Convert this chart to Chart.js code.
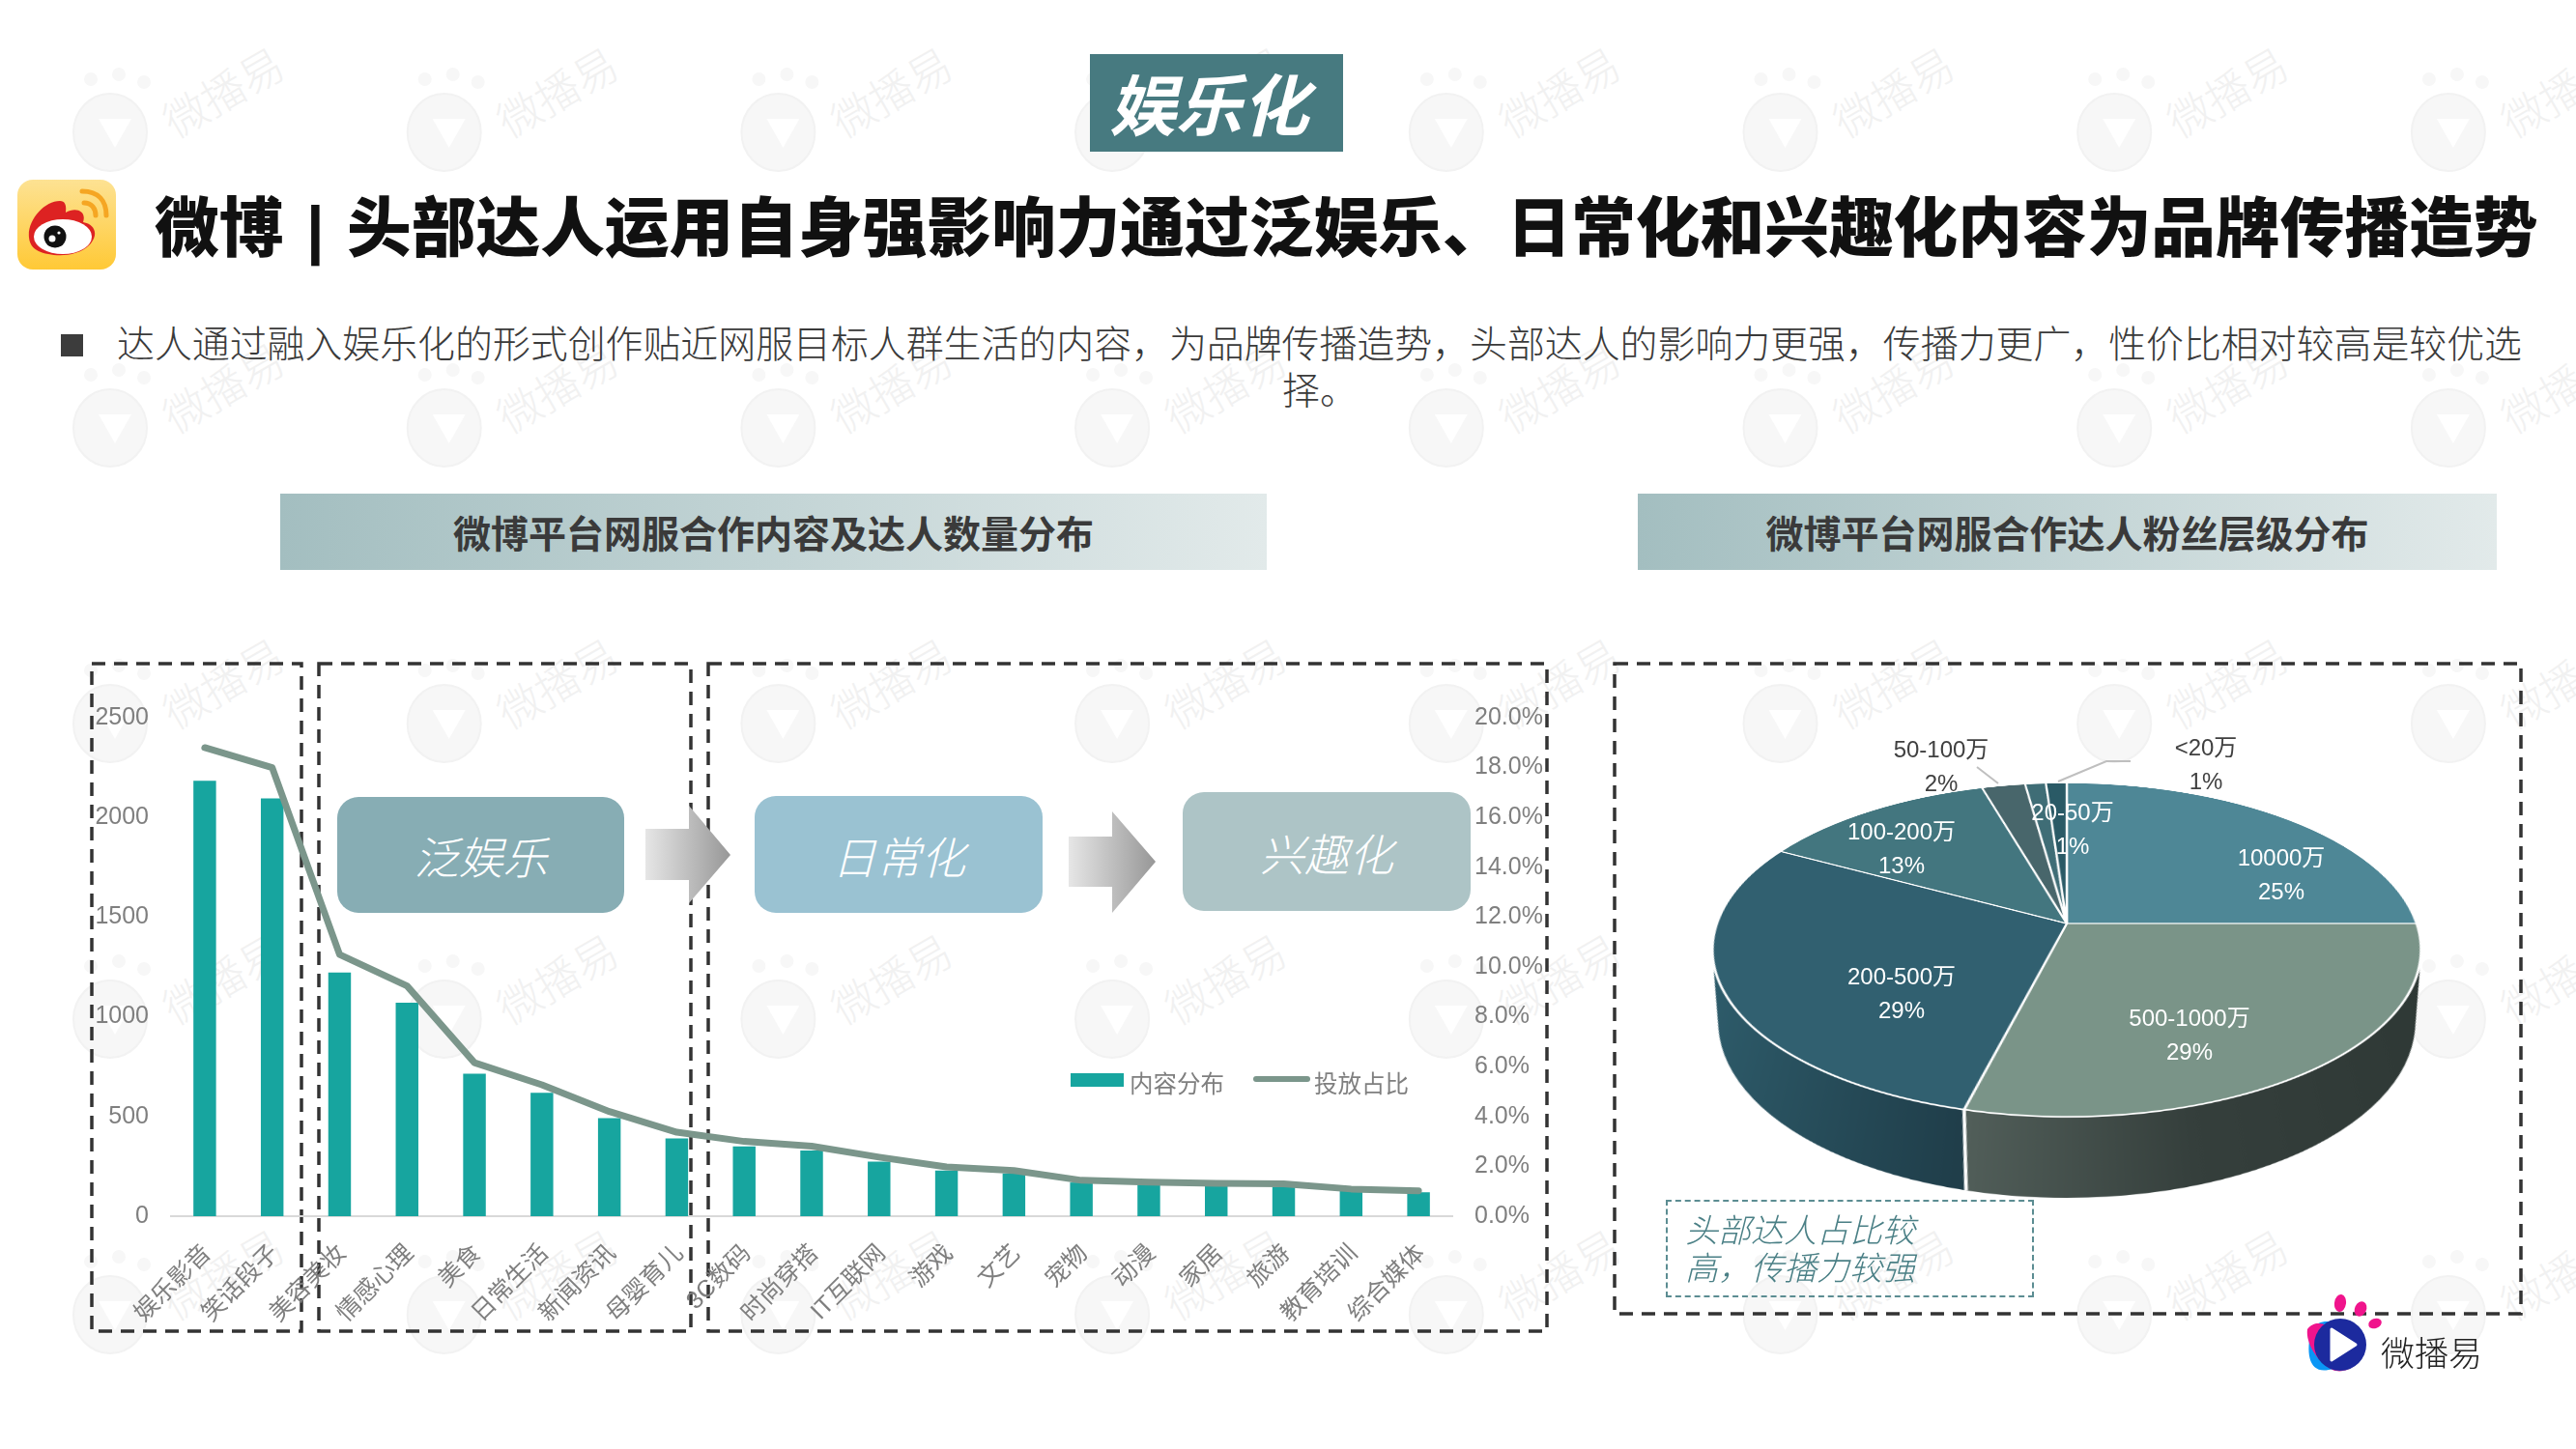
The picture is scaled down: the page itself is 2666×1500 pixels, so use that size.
<!DOCTYPE html>
<html lang="zh">
<head>
<meta charset="utf-8">
<script src="https://cdn.jsdelivr.net/npm/chart.js@4/dist/chart.umd.min.js"></script>
<style>
  html, body { margin: 0; padding: 0; background: #fff; }
  body { width: 2666px; height: 1500px; position: relative; overflow: hidden;
         font-family: "Liberation Sans", "Noto Sans CJK SC", sans-serif; }
  .abs { position: absolute; white-space: nowrap; }
  .ctr { transform: translate(-50%, -50%); text-align: center; }
  .banner { display: flex; align-items: center; justify-content: center; top: 511px; height: 79px;
            background: linear-gradient(90deg, #a3bec0, #e2eaea); color: #3a3a3a;
            font-size: 39px; font-weight: 700; padding-bottom: 0; }
  .banner span { position: relative; top: -1px; }
  .flow { display: flex; align-items: center; justify-content: center; border-radius: 22px;
          color: #fff; font-size: 46px; font-style: italic; font-weight: 300; }
  .pieLabel { font-size: 24px; line-height: 35px; color: #fff; }
  .legendText { font-size: 24.5px; color: #7f7f7f; }
  #mixChart { position: absolute; left: 60px; top: 700px; }
  #pieChart { position: absolute; left: 1759px; top: 575.5px;
              transform-origin: 380px 380px; transform: perspective(2031px) rotateX(62.26deg); }
</style>
</head>
<body>

<svg id="watermark" class="abs" style="left:0;top:0" width="2666" height="1500"></svg>

<!-- 顶部标题 -->
<div class="abs" style="left:1128px;top:56px;width:262px;height:101px;background:#477a80"></div>
<div class="abs ctr" style="left:1251px;top:111px;color:#fff;font-size:69px;line-height:99px;font-weight:700;font-style:italic">娱乐化</div>

<svg class="abs" style="left:18px;top:186px" width="102" height="93" viewBox="0 0 102 93">
  <defs><linearGradient id="wbBg" x1="0" y1="0" x2="0" y2="1"><stop offset="0" stop-color="#fde293"/><stop offset="1" stop-color="#ffc936"/></linearGradient></defs>
  <rect width="102" height="93" rx="16" fill="url(#wbBg)"/>
  <path d="M12 60 C10 42 28 22 44 22 C52 22 50 32 50 34 C60 28 72 32 68 44 C80 46 84 56 76 66 C66 78 46 80 32 77 C20 75 13 70 12 60 Z" fill="#dd2222"/>
  <ellipse cx="47" cy="59" rx="30" ry="18" fill="#fff"/>
  <circle cx="39" cy="59" r="11.5" fill="#111"/>
  <circle cx="36" cy="61" r="3.5" fill="#fff"/><circle cx="43" cy="55" r="1.6" fill="#fff"/>
  <path d="M67 12 C84 12 92 22 92 37" fill="none" stroke="#f5a623" stroke-width="5" stroke-linecap="round"/>
  <path d="M69 24 C77 24 81 30 81 37" fill="none" stroke="#f5a623" stroke-width="5" stroke-linecap="round"/>
</svg>

<div class="abs" style="left:160px;top:195px;height:84px;line-height:84px;font-size:66.7px;word-spacing:5px;font-weight:900;color:#111;white-space:pre">微博 | 头部达人运用自身强影响力通过泛娱乐、日常化和兴趣化内容为品牌传播造势</div>

<div class="abs" style="left:63px;top:346px;width:23px;height:23px;background:#3c3c3c"></div>
<div class="abs" style="left:121px;top:333px;height:48px;line-height:48px;font-size:38.9px;color:#3a3a3a;font-weight:300">达人通过融入娱乐化的形式创作贴近网服目标人群生活的内容，为品牌传播造势，头部达人的影响力更强，传播力更广，性价比相对较高是较优选</div>
<div class="abs ctr" style="left:1366px;top:401px;font-size:38.9px;color:#3a3a3a;font-weight:300">择。</div>

<div class="abs banner" style="left:290px;width:1021px"><span>微博平台网服合作内容及达人数量分布</span></div>
<div class="abs banner" style="left:1695px;width:889px"><span>微博平台网服合作达人粉丝层级分布</span></div>

<!-- 虚线框 -->
<svg class="abs" style="left:0;top:0" width="2666" height="1500" fill="none" stroke="#333" stroke-width="3.5" stroke-dasharray="14 9">
  <rect x="95" y="687" width="217" height="691"/>
  <rect x="330" y="687" width="385" height="691"/>
  <rect x="733" y="687" width="868" height="691"/>
  <rect x="1671" y="687" width="938" height="673"/>
</svg>

<canvas id="mixChart" width="1543" height="689"></canvas>

<!-- 流程块 -->
<div class="abs flow" style="left:349px;top:825px;width:297px;height:120px;background:#87adb4">泛娱乐</div>
<div class="abs flow" style="left:781px;top:824px;width:298px;height:121px;background:#9ac2d2">日常化</div>
<div class="abs flow" style="left:1224px;top:820px;width:298px;height:123px;background:#adc4c6">兴趣化</div>
<svg class="abs" style="left:0;top:0" width="2666" height="1500">
  <defs><linearGradient id="arrowFill" x1="0" y1="0" x2="1" y2="0"><stop offset="0" stop-color="#e6e6e6"/><stop offset="1" stop-color="#979797"/></linearGradient></defs>
  <polygon points="668,858 713,858 713,834 756,885 713,935 713,911 668,911" fill="url(#arrowFill)"/>
  <polygon points="1106,866 1151,866 1151,840 1196,892 1151,945 1151,918 1106,918" fill="url(#arrowFill)"/>
</svg>

<!-- 图例 -->
<div id="mixLegend"></div>

<canvas id="pieChart" width="760" height="880"></canvas>

<svg class="abs" style="left:0;top:0" width="2666" height="1500" fill="none" stroke="#bfbfbf" stroke-width="2">
  <polyline points="2046,794 2068,811"/>
  <polyline points="2205,788 2180,788 2130,809"/>
</svg>
<div id="pieLabels"></div>

<div class="abs" style="left:1724px;top:1242px;width:381px;height:101px;box-sizing:border-box;border:2px dashed #5c8d92"></div>
<div class="abs" style="left:1744px;top:1255px;font-size:34px;line-height:39px;font-style:italic;font-weight:300;color:#4b8086">头部达人占比较<br>高，传播力较强</div>

<!-- 右下角 logo -->
<svg class="abs" style="left:2380px;top:1340px" width="90" height="90" viewBox="0 0 90 90">
  <ellipse cx="42" cy="9" rx="6" ry="9" fill="#f0148c" transform="rotate(8 42 9)"/>
  <ellipse cx="63" cy="15" rx="6" ry="8" fill="#f0148c" transform="rotate(25 63 15)"/>
  <ellipse cx="78" cy="30" rx="7" ry="5" fill="#f0148c" transform="rotate(-20 78 30)"/>
  <path d="M12 36 C22 22 44 28 48 40 C54 60 40 78 30 78 C10 82 6 62 12 36 Z" fill="#0a96f5"/>
  <path d="M8 36 C20 20 44 40 44 52 C54 60 66 60 68 52 C68 70 48 84 34 78 C18 70 6 50 8 36 Z" fill="#f0148c"/>
  <circle cx="42" cy="52" r="27" fill="#1c2a9e"/>
  <polygon points="33,36 58,52 33,68" fill="#fff" stroke="#fff" stroke-width="3" stroke-linejoin="round"/>
</svg>
<div class="abs" style="left:2464px;top:1381px;font-size:35px;line-height:42px;color:#222;font-weight:300">微播易</div>

<script>
// 柱线图数据
const categories = ["娱乐影音", "笑话段子", "美容美妆", "情感心理", "美食", "日常生活", "新闻资讯", "母婴育儿", "3C数码", "时尚穿搭", "IT互联网", "游戏", "文艺", "宠物", "动漫", "家居", "旅游", "教育培训", "综合媒体"];
const contentValues = [2184, 2095, 1222, 1071, 715, 619, 492, 390, 350, 329, 274, 229, 214, 169, 158, 154, 147, 129, 120];
const shareValues = [18.8, 18.0, 10.5, 9.24, 6.16, 5.27, 4.2, 3.37, 3.0, 2.81, 2.37, 1.98, 1.83, 1.44, 1.37, 1.32, 1.3, 1.09, 1.02];
const seriesNames = ["内容分布", "投放占比"];

// 饼图数据
const fanLevels = ["10000万", "500-1000万", "200-500万", "100-200万", "50-100万", "20-50万", "<20万"];
const fanShares = [25.0, 29.0, 28.9, 12.6, 2.3, 1.1, 1.1];

const FONT = '"Liberation Sans", "Noto Sans CJK SC", sans-serif';
const GREY = "#7f7f7f";
const BAR_COLOR = "#17a59f";
const LINE_COLOR = "#7b968b";
const pieColors = ["#4e8796", "#7a9488", "#316070", "#43767f", "#48666b", "#3f6d76", "#2a5a66"];
// 侧面：底面下移量和底面半径比例
const PIE_DEPTH = 149;
const PIE_SHRINK = 0.92;

// 水印
const wmCell = (x, y) => `
  <g transform="translate(${x} ${y})" fill="#f7f7f7">
    <circle cx="-20" cy="-48" r="7"/><circle cx="9" cy="-53" r="7"/><circle cx="35" cy="-45" r="7"/>
    <ellipse cx="0" cy="7" rx="38" ry="40" stroke="#f2f2f2" stroke-width="2"/>
    <polygon points="-12,-7 22,-7 5,23" fill="#fff"/>
    <text x="112" y="-28" font-size="45" font-weight="300" fill="#f1f1f1" text-anchor="middle" dominant-baseline="middle"
      transform="rotate(-30 112 -43)" font-family='"Noto Sans CJK SC"'>微播易</text>
  </g>`;
let wm = "";
for (let r = 0; r < 5; r++) {
    for (let c = 0; c < 8; c++) wm += wmCell(114 + c * 345.7, 130 + r * 306);
}
document.getElementById("watermark").innerHTML = wm;

// 柱线图
new Chart(document.getElementById("mixChart"), {
    type: "bar",
    data: {
        labels: categories,
        datasets: [
            { type: "line", label: seriesNames[1], data: shareValues, yAxisID: "yRight", order: 0,
              borderColor: LINE_COLOR, borderWidth: 7, pointRadius: 0, tension: 0,
              borderCapStyle: "round", borderJoinStyle: "round" },
            { label: seriesNames[0], data: contentValues, yAxisID: "yLeft", order: 1,
              backgroundColor: BAR_COLOR, barPercentage: 1, categoryPercentage: 0.336 }
        ]
    },
    options: {
        responsive: false,
        animation: false,
        layout: { padding: { top: 43 } },
        plugins: { legend: { display: false }, tooltip: { enabled: false } },
        scales: {
            x: {
                grid: { display: false },
                border: { display: true, color: "#d9d9d9", width: 2 },
                ticks: { autoSkip: false, maxRotation: 45, minRotation: 45, padding: 16, labelOffset: 3, color: GREY,
                          font: { family: FONT, size: 25 } },
                afterFit: (s) => { s.height = 130; }
            },
            yLeft: {
                position: "left", min: 0, max: 2500,
                grid: { display: false }, border: { display: false },
                ticks: { stepSize: 500, padding: 15, color: GREY, font: { family: FONT, size: 25 },
                          callback: (v) => String(v) },
                afterFit: (s) => { s.width = 117; }
            },
            yRight: {
                position: "right", min: 0, max: 20,
                grid: { display: false }, border: { display: false },
                ticks: { stepSize: 2, padding: 15, color: GREY, font: { family: FONT, size: 25 },
                          callback: (v) => v.toFixed(1) + "%" },
                afterFit: (s) => { s.width = 100; }
            }
        }
    }
});

// 图例
document.getElementById("mixLegend").innerHTML = `
  <div class="abs" style="left:1108px;top:1111px;width:55px;height:14px;background:${BAR_COLOR}"></div>
  <div class="abs legendText" style="left:1169px;top:1103px">${seriesNames[0]}</div>
  <div class="abs" style="left:1297px;top:1114px;width:59px;height:6px;border-radius:3px;background:${LINE_COLOR}"></div>
  <div class="abs legendText" style="left:1360px;top:1103px">${seriesNames[1]}</div>`;

// 饼图侧面：扇区逐层下移并略微收小，叠出厚度
const pieSide = {
    id: "pieSide",
    beforeDatasetsDraw(chart) {
        const ctx = chart.ctx;
        const arcs = chart.getDatasetMeta(0).data;
        const r = arcs[0].outerRadius, x0 = arcs[0].x, y0 = arcs[0].y;
        const g1 = ctx.createLinearGradient(x0 - r, 0, x0 + r, 0);
        g1.addColorStop(0.376, "#525f5a");
        g1.addColorStop(0.65, "#353f3c");
        g1.addColorStop(1, "#2e3835");
        const g2 = ctx.createLinearGradient(x0 - r, 0, x0 + r, 0);
        g2.addColorStop(0, "#2f5e6d");
        g2.addColorStop(0.376, "#203e4a");
        const sides = ["#2e3835", g1, g2, g2, g2, g2, g2];
        ctx.save();
        for (let dy = PIE_DEPTH; dy > 0; dy--) {
            const rr = r * (1 - (1 - PIE_SHRINK) * dy / PIE_DEPTH);
            arcs.forEach((a, i) => {
                ctx.beginPath();
                ctx.moveTo(a.x, a.y + dy);
                ctx.arc(a.x, a.y + dy, rr, a.startAngle, a.endAngle);
                ctx.closePath();
                ctx.fillStyle = sides[i];
                ctx.fill();
            });
        }
        // 正面两个扇区之间的白线
        const edge = arcs[1].endAngle;
        const rEnd = r * PIE_SHRINK;
        ctx.strokeStyle = "#fff";
        ctx.lineWidth = 3;
        ctx.beginPath();
        ctx.moveTo(x0 + r * Math.cos(edge), y0 + r * Math.sin(edge));
        ctx.lineTo(x0 + rEnd * Math.cos(edge), y0 + PIE_DEPTH + rEnd * Math.sin(edge));
        ctx.stroke();
        ctx.restore();
    }
};

new Chart(document.getElementById("pieChart"), {
    type: "pie",
    data: {
        labels: fanLevels,
        datasets: [{ data: fanShares, backgroundColor: pieColors, borderColor: "#fff", borderWidth: 2.5, radius: 362 }]
    },
    options: {
        responsive: false,
        animation: false,
        devicePixelRatio: 2,
        layout: { padding: { bottom: 120 } },
        plugins: { legend: { display: false }, tooltip: { enabled: false } }
    },
    plugins: [pieSide]
});

// 饼图标签
const pieLabelSpots = [[2361, 905, "#fff"], [2266, 1071, "#fff"], [1968, 1028, "#fff"], [1968, 878, "#fff"], [2009, 793, "#404040"], [2145, 858, "#fff"], [2283, 791, "#404040"]];
document.getElementById("pieLabels").innerHTML = fanLevels.map((name, i) => {
    const [x, y, color] = pieLabelSpots[i];
    return `<div class="abs ctr pieLabel" style="left:${x}px;top:${y}px;color:${color}">${name.replace("<", "&lt;")}<br>${Math.round(fanShares[i])}%</div>`;
}).join("");
</script>
</body>
</html>
